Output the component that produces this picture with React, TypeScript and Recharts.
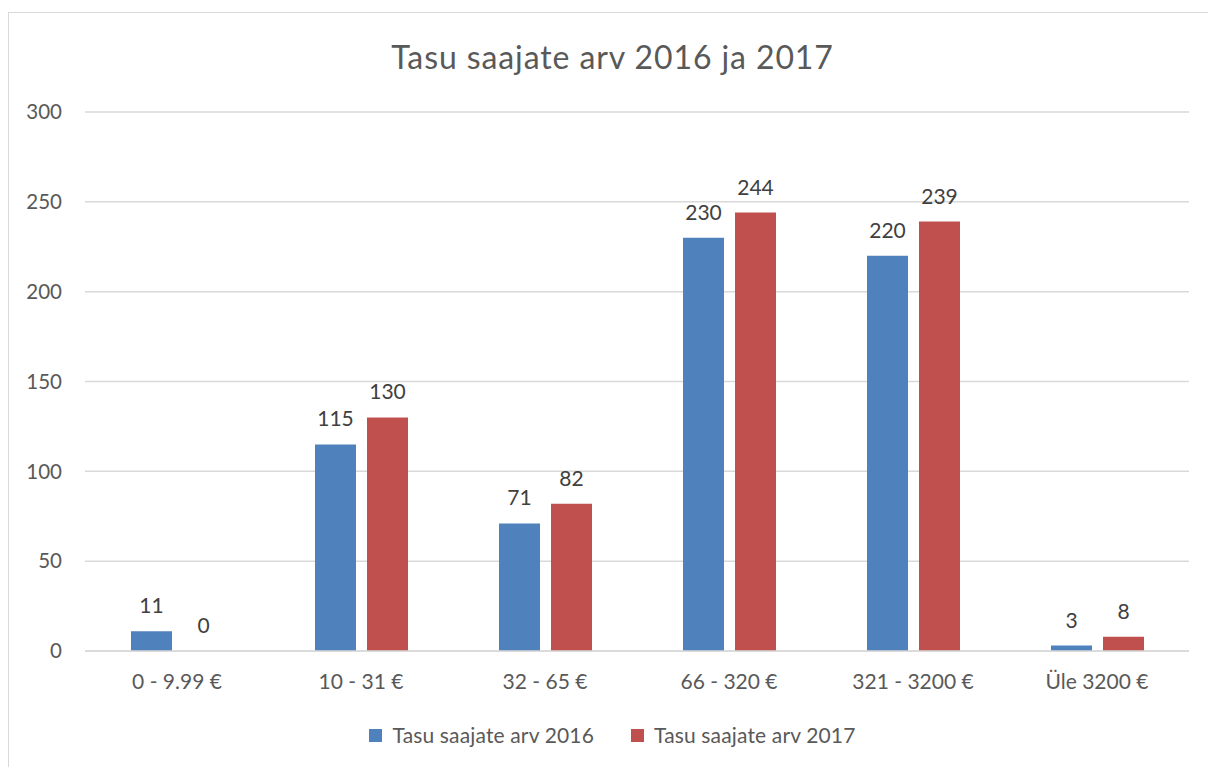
import React from 'react';
import { BarChart, Bar, XAxis, YAxis, CartesianGrid, Legend, LabelList } from 'recharts';

const categories = ['0 - 9.99 €', '10 - 31 €', '32 - 65 €', '66 - 320 €', '321 - 3200 €', 'Üle 3200 €'];
const values2016 = [11, 115, 71, 230, 220, 3];
const values2017 = [0, 130, 82, 244, 239, 8];
const yTicks = [0, 50, 100, 150, 200, 250, 300];

const seriesNames = ['Tasu saajate arv 2016', 'Tasu saajate arv 2017'];
const BLUE = '#4F81BD';
const RED = '#C0504D';
const FONT = 'Lato, "Open Sans", sans-serif';
const TEXT = '#595959';

const data = categories.map((name, i) => ({
    name,
    y2016: values2016[i],
    y2017: values2017[i],
}));

// value label drawn above the bar top (also for zero-height bars)
const renderValue = (props: any) => {
    const { x, y, width, height, value } = props;
    const top = Number(y) + Math.min(0, Number(height) || 0);
    return (
        <text
            x={Number(x) + Number(width) / 2}
            y={top - 18}
            textAnchor="middle"
            fill="#404040"
            fontSize={21}
            fontFamily={FONT}
        >
            {value}
        </text>
    );
};

const renderLegend = (props: any) => {
    const { payload } = props;
    return (
        <div style={{ display: 'flex', justifyContent: 'center', alignItems: 'center', fontFamily: FONT }}>
            {payload.map((entry: any, i: number) => (
                <div
                    key={entry.value}
                    style={{ display: 'flex', alignItems: 'center', marginLeft: i === 0 ? 0 : 37 }}
                >
                    <span style={{ width: 13, height: 13, background: entry.color, display: 'inline-block', marginRight: 10 }} />
                    <span style={{ color: TEXT, fontSize: 21, letterSpacing: 0.15, lineHeight: '24px' }}>{entry.value}</span>
                </div>
            ))}
        </div>
    );
};

export default function App() {
    return (
        <div
            style={{
                position: 'fixed',
                left: 0,
                top: 0,
                width: 1208,
                height: 767,
                overflow: 'hidden',
                background: '#fff',
                fontFamily: FONT,
            }}
        >
            {/* chart frame, runs past the right and bottom edges */}
            <div
                style={{
                    position: 'absolute',
                    left: 8,
                    top: 12,
                    width: 1210,
                    height: 770,
                    border: '1.5px solid #d9d9d9',
                    boxSizing: 'border-box',
                }}
            />
            <div
                style={{
                    position: 'absolute',
                    top: 37,
                    left: 8,
                    width: 1209,
                    textAlign: 'center',
                    fontSize: 32,
                    letterSpacing: 0.9,
                    color: TEXT,
                }}
            >
                Tasu saajate arv 2016 ja 2017
            </div>
            <BarChart
                width={1192}
                height={759}
                data={data}
                margin={{ top: 104, right: 11, left: 0, bottom: 76 }}
                barSize={41}
                barGap={11}
                style={{ position: 'absolute', left: 8, top: 8 }}
            >
                <CartesianGrid vertical={false} stroke="#d9d9d9" strokeWidth={1.5} />
                <XAxis
                    dataKey="name"
                    height={40}
                    axisLine={{ stroke: '#d9d9d9', strokeWidth: 1.5 }}
                    tickLine={false}
                    tickSize={0}
                    tickMargin={23}
                    tick={{ fill: TEXT, fontSize: 21, fontFamily: FONT }}
                />
                <YAxis
                    width={77}
                    domain={[0, 300]}
                    ticks={yTicks}
                    axisLine={false}
                    tickLine={false}
                    tickSize={0}
                    tickMargin={23}
                    tick={{ fill: TEXT, fontSize: 20.5, fontFamily: FONT }}
                />
                <Legend
                    verticalAlign="middle"
                    align="center"
                    content={renderLegend}
                    wrapperStyle={{ top: 715, left: 0, width: 1209 }}
                />
                <Bar dataKey="y2016" name={seriesNames[0]} fill={BLUE} minPointSize={0.01} isAnimationActive={false}>
                    <LabelList dataKey="y2016" content={renderValue} />
                </Bar>
                <Bar dataKey="y2017" name={seriesNames[1]} fill={RED} minPointSize={0.01} isAnimationActive={false}>
                    <LabelList dataKey="y2017" content={renderValue} />
                </Bar>
            </BarChart>
        </div>
    );
}
